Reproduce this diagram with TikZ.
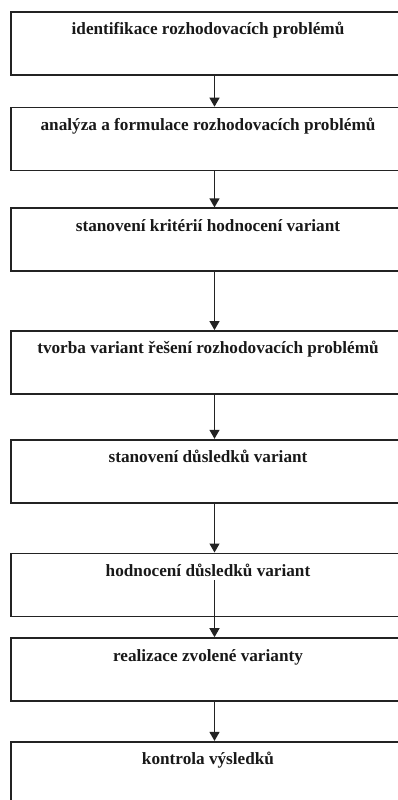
\documentclass[tikz,border=0pt]{standalone}
\usepackage{fontspec}
\setmainfont{Liberation Serif}
\usetikzlibrary{positioning,arrows.meta}
\definecolor{fcline}{RGB}{35,35,35}
\definecolor{fctext}{RGB}{25,25,25}

\begin{document}
\begin{tikzpicture}[
  x=1pt, y=1pt,
  stepbox/.style={draw=fcline, line width=1.7pt, minimum width=394.6pt,
                  inner sep=0pt, text height=23pt, text depth=40pt,
                  text=fctext, font=\fontsize{17.2}{20}\selectfont\bfseries},
  line/.style={-{Triangle[length=9pt, width=10pt]}, draw=fcline, line width=1.3pt},
]
\useasboundingbox (0,0) rectangle (398,-800);
\clip (0,0) rectangle (398,-800);
\node[stepbox, anchor=north] (ident) at (208,-11) {identifikace rozhodovacích problémů};
\node[stepbox, below=31pt of ident] (anal) {analýza a formulace rozhodovacích problémů};
\node[stepbox, below=36pt of anal] (krit) {stanovení kritérií hodnocení variant};
\node[stepbox, below=58pt of krit] (tvor) {tvorba variant řešení rozhodovacích problémů};
\node[stepbox, below=44pt of tvor] (dusl) {stanovení důsledků variant};
\node[stepbox, below=49pt of dusl] (hodn) {hodnocení důsledků variant};
\node[stepbox, below=20pt of hodn] (real) {realizace zvolené varianty};
\node[stepbox, below=39pt of real] (kont) {kontrola výsledků};

\draw[line] ([xshift=6.5pt]ident.south) -- ([xshift=6.5pt]anal.north);
\draw[line] ([xshift=6.5pt]anal.south) -- ([xshift=6.5pt]krit.north);
\draw[line] ([xshift=6.5pt]krit.south) -- ([xshift=6.5pt]tvor.north);
\draw[line] ([xshift=6.5pt]tvor.south) -- ([xshift=6.5pt]dusl.north);
\draw[line] ([xshift=6.5pt]dusl.south) -- ([xshift=6.5pt]hodn.north);
\draw[line] ([xshift=6.5pt,yshift=-4pt]hodn.base) -- ([xshift=6.5pt]real.north);
\draw[line] ([xshift=6.5pt]real.south) -- ([xshift=6.5pt]kont.north);
\end{tikzpicture}
\end{document}
